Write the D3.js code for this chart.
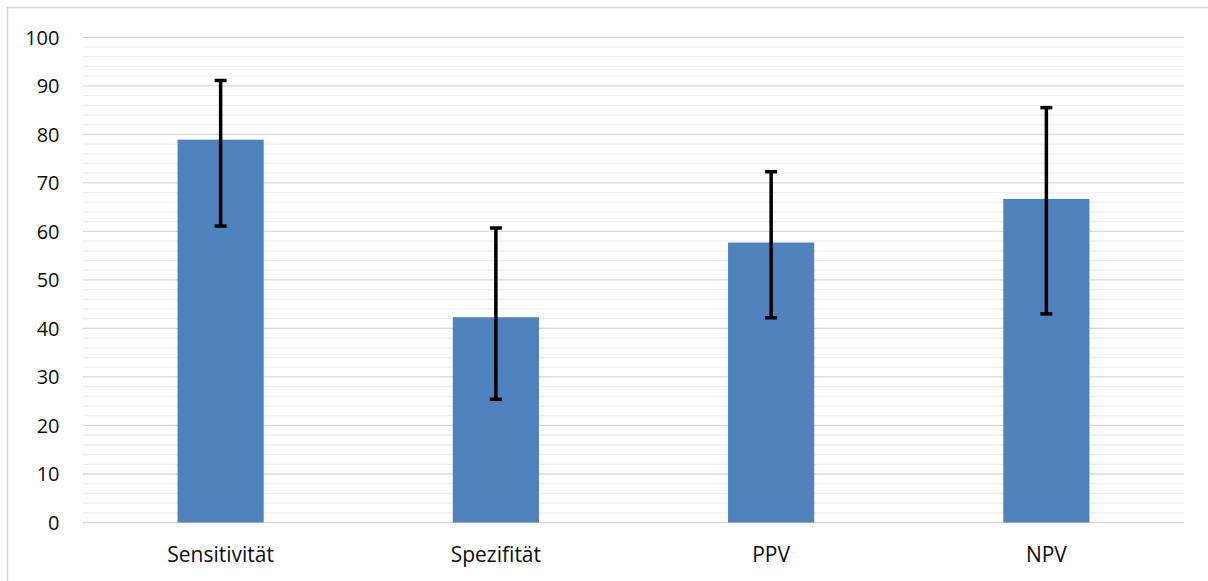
<!DOCTYPE html>
<html>
<head>
<meta charset="utf-8">
<script src="https://cdn.jsdelivr.net/npm/d3@7"></script>
<style>
  html, body { margin: 0; padding: 0; background: #fff; }
  svg { display: block; }
  text { font-family: "Open Sans", "Noto Sans", sans-serif; }
</style>
</head>
<body>
<svg id="chart" width="1208" height="581"></svg>
<script>
const categories = ["Sensitivität", "Spezifität", "PPV", "NPV"];
const values = [78.9, 42.3, 57.7, 66.7];
const errLow = [61.1, 25.4, 42.2, 43.0];
const errHigh = [91.1, 60.7, 72.3, 85.5];
const yTicks = [0, 10, 20, 30, 40, 50, 60, 70, 80, 90, 100];
const yMinorTicks = d3.range(0, 101, 2);

(function () {
const svg = d3.select("#chart");
const W = 1208, H = 581;
const pLeft = 83, pRight = 1184, pTop = 37.3, pBottom = 522.5;

svg.append("rect").attr("width", W).attr("height", H).attr("fill", "#fff");
svg.append("rect")
  .attr("x", 7.5).attr("y", 7.5).attr("width", 1220).attr("height", 600)
  .attr("fill", "none").attr("stroke", "#d9d9d9").attr("stroke-width", 1.5);

const x = d3.scaleBand().domain(categories).range([pLeft, pRight]).paddingInner(0.687).paddingOuter(0.3435);
const y = d3.scaleLinear().domain([0, 100]).range([pBottom, pTop]);

// minor grid
svg.append("g").selectAll("line").data(yMinorTicks.filter(v => v % 10 !== 0)).join("line")
  .attr("x1", pLeft).attr("x2", pRight)
  .attr("y1", d => y(d)).attr("y2", d => y(d))
  .attr("stroke", "#efefef").attr("stroke-width", 1.2);

// major grid
svg.append("g").selectAll("line").data(yTicks).join("line")
  .attr("x1", pLeft).attr("x2", pRight)
  .attr("y1", d => y(d)).attr("y2", d => y(d))
  .attr("stroke", "#d9d9d9").attr("stroke-width", 1.3);

// y axis labels
const yAxis = d3.axisLeft(y).tickValues(yTicks).tickSize(0).tickPadding(0);
const ya = svg.append("g").attr("transform", `translate(${pLeft - 23.5},0)`).call(yAxis);
ya.select(".domain").remove();
ya.selectAll("text").attr("font-size", 20).attr("fill", "#0d0d0d")
  .attr("font-family", "'Open Sans', sans-serif").attr("dy", "0.35em");

// bars
svg.append("g").selectAll("rect").data(categories).join("rect")
  .attr("x", d => x(d)).attr("width", x.bandwidth())
  .attr("y", (d, i) => y(values[i])).attr("height", (d, i) => y(0) - y(values[i]))
  .attr("fill", "#4f81bd");

// error bars
const eg = svg.append("g").attr("stroke", "#000");
categories.forEach((c, i) => {
  const cx = x(c) + x.bandwidth() / 2;
  eg.append("line").attr("x1", cx).attr("x2", cx)
    .attr("y1", y(errHigh[i])).attr("y2", y(errLow[i])).attr("stroke-width", 3.5);
  [errHigh[i], errLow[i]].forEach(v => {
    eg.append("line").attr("x1", cx - 6).attr("x2", cx + 6)
      .attr("y1", y(v)).attr("y2", y(v)).attr("stroke-width", 3.5);
  });
});

// x axis labels
const xAxis = d3.axisBottom(x).tickSize(0).tickPadding(0);
const xa = svg.append("g").attr("transform", `translate(0,${pBottom})`).call(xAxis);
xa.select(".domain").remove();
xa.selectAll("text").attr("font-size", 21).attr("fill", "#0d0d0d")
  .attr("font-family", "'Open Sans', sans-serif").attr("dy", null).attr("y", 39.5);
})();
</script>
</body>
</html>
